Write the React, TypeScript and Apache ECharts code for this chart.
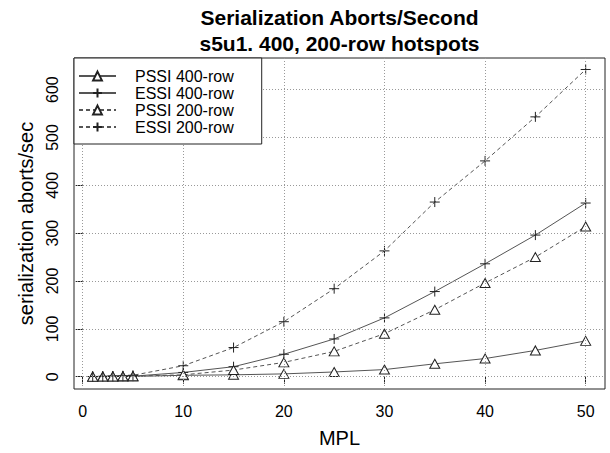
import React, { useEffect, useRef } from "react";
import * as echarts from "echarts";

const mpl = [1, 2, 3, 4, 5, 10, 15, 20, 25, 30, 35, 40, 45, 50];
const pssi400 = [0.2, 0.3, 0.4, 0.5, 0.6, 3, 4, 6, 10, 15, 27, 38, 55, 75];
const essi400 = [0.3, 0.5, 0.7, 1, 1.2, 9, 21, 47, 79, 123, 178, 236, 296, 363];
const pssi200 = [0.3, 0.5, 0.7, 1, 1.3, 4, 14, 30, 53, 90, 140, 196, 250, 314];
const essi200 = [0.5, 1, 1.5, 2, 3, 23, 61, 115, 184, 263, 365, 451, 543, 642];
const xTicks = [0, 10, 20, 30, 40, 50];
const yTicks = [0, 100, 200, 300, 400, 500, 600];
const seriesNames = ["PSSI 400-row", "ESSI 400-row", "PSSI 200-row", "ESSI 200-row"];

const FONT = "'Liberation Sans', Arial, Helvetica, sans-serif";
const TRI = "path://M5,0L10,8.66L0,8.66Z";
const PLUS = "path://M5,0L5,10M0,5L10,5";

function mk(name: string, vals: number[], sym: string, dashed: boolean) {
  return {
    name,
    type: "line",
    data: mpl.map((x, i) => [x, vals[i]]),
    symbol: sym,
    symbolSize: sym === TRI ? [10, 9] : [10, 10],
    showAllSymbol: true,
    lineStyle: { color: "#555", width: 1, type: dashed ? [4, 3] : "solid" },
    itemStyle: { color: "#fff", borderColor: "#222", borderWidth: 1 },
    z: 3,
  };
}

export default function App() {
  const ref = useRef<HTMLDivElement>(null);
  useEffect(() => {
    if (!ref.current) return;
    const chart = echarts.init(ref.current, null, { renderer: "svg" });
    chart.setOption({
      animation: false,
      backgroundColor: "#fff",
      textStyle: { fontFamily: FONT },
      title: {
        text: "Serialization Aborts/Second\ns5u1. 400, 200-row hotspots",
        left: 339.5,
        top: 4,
        padding: 0,
        textAlign: "center",
        textStyle: { fontFamily: FONT, fontSize: 21, fontWeight: "bold", color: "#000", lineHeight: 26 },
      },
      grid: {
        left: 74,
        top: 58,
        width: 531,
        height: 332,
        show: true,
        borderColor: "#222",
        borderWidth: 1,
        backgroundColor: "transparent",
      },
      legend: {
        data: seriesNames,
        orient: "vertical",
        left: 74,
        top: 58,
        backgroundColor: "#fff",
        borderColor: "#222",
        borderWidth: 1,
        borderRadius: 0,
        padding: [10, 28, 9, 4],
        itemWidth: 37,
        itemHeight: 11,
        itemGap: 1,
        textStyle: { fontFamily: FONT, fontSize: 16, color: "#000", lineHeight: 16, padding: [0, 0, 0, 14] },
        z: 10,
      },
      xAxis: {
        type: "value",
        min: -0.86,
        max: 51.92,
        name: "MPL",
        nameLocation: "middle",
        nameGap: 39,
        nameTextStyle: { fontFamily: FONT, fontSize: 20, color: "#000" },
        axisLine: { show: false },
        axisTick: { show: true, customValues: xTicks, length: 7, lineStyle: { color: "#222" } },
        axisLabel: { customValues: xTicks, fontSize: 16, color: "#000", margin: 14, fontFamily: FONT },
        splitLine: { show: false },
      },
      yAxis: {
        type: "value",
        min: -25.6,
        max: 666,
        name: "serialization aborts/sec",
        nameLocation: "middle",
        nameGap: 38,
        nameTextStyle: { fontFamily: FONT, fontSize: 20, color: "#000" },
        axisLine: { show: false },
        axisTick: { show: true, customValues: yTicks, length: 7, lineStyle: { color: "#222" } },
        axisLabel: { customValues: yTicks, fontSize: 16, color: "#000", margin: 14, rotate: 90, fontFamily: FONT },
        splitLine: { show: false },
      },
      series: [
        {
          name: "grid",
          type: "line",
          data: [],
          z: 1,
          silent: true,
          markLine: {
            silent: true,
            symbol: "none",
            label: { show: false },
            lineStyle: { color: "#999", type: [1, 2], width: 1 },
            data: [...xTicks.map((v) => ({ xAxis: v })), ...yTicks.map((v) => ({ yAxis: v }))],
          },
        },
        mk(seriesNames[0], pssi400, TRI, false),
        mk(seriesNames[1], essi400, PLUS, false),
        mk(seriesNames[2], pssi200, TRI, true),
        mk(seriesNames[3], essi200, PLUS, true),
      ],
    });
    return () => chart.dispose();
  }, []);
  return <div ref={ref} style={{ position: "absolute", left: 0, top: 0, width: 610, height: 453 }} />;
}
